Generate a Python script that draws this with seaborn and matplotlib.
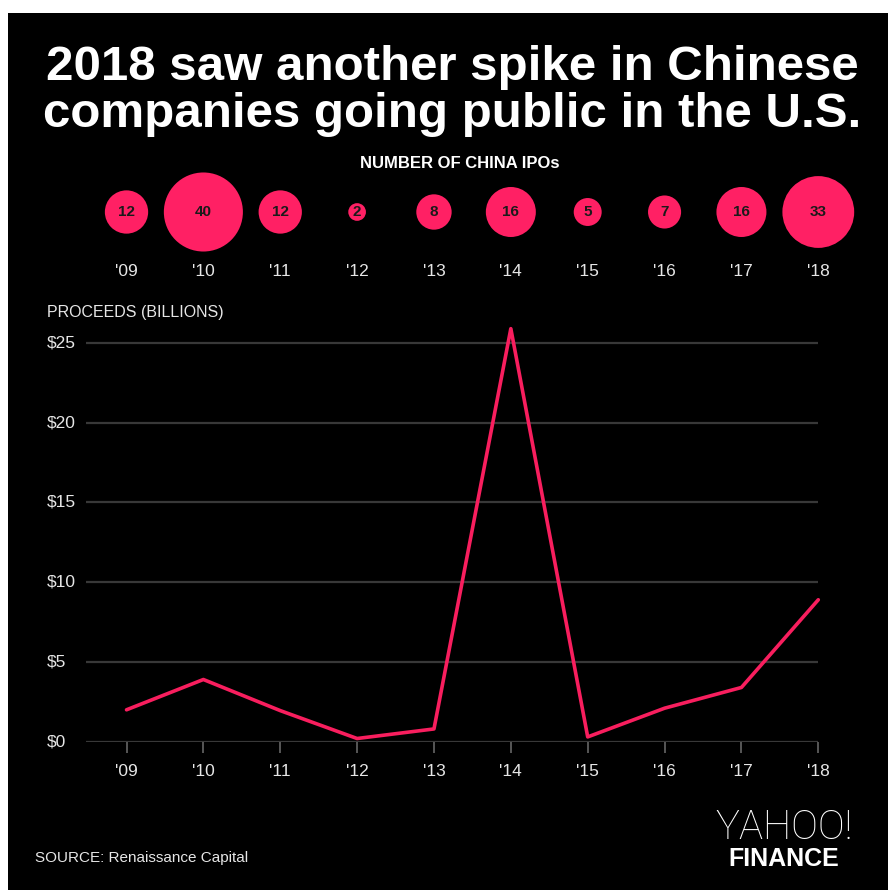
import matplotlib
matplotlib.use("Agg")
import matplotlib.pyplot as plt
import matplotlib.transforms as mtransforms
from matplotlib.patches import Rectangle
import seaborn as sns
import pandas as pd

# ---- data ----
years = ["'09", "'10", "'11", "'12", "'13", "'14", "'15", "'16", "'17", "'18"]
ipo_counts = [12, 40, 12, 2, 8, 16, 5, 7, 16, 33]
proceeds = [2.0, 3.9, 1.95, 0.2, 0.8, 25.9, 0.3, 2.1, 3.4, 8.9]
y_ticks = [0, 5, 10, 15, 20, 25]
y_tick_labels = ["$0", "$5", "$10", "$15", "$20", "$25"]

title = "2018 saw another spike in Chinese\ncompanies going public in the U.S."
bubble_title = "NUMBER OF CHINA IPOs"
axis_title = "PROCEEDS (BILLIONS)"
source = "SOURCE: Renaissance Capital"

PINK = "#F81E5E"
BUBBLE = "#FF2064"
GRID = "#383838"
TXT = "#e6e6e6"

sns.set_theme(style="dark")
plt.rcParams["font.family"] = ["Liberation Sans", "DejaVu Sans"]

W, H = 888, 890
fig = plt.figure(figsize=(W / 100, H / 100), dpi=100, facecolor="white")
fig.patches.append(Rectangle((8 / W, 0), (W - 8) / W, (H - 13) / H,
                             transform=fig.transFigure, facecolor="black",
                             edgecolor="none", zorder=-10))

def fx(px):
    return px / W

def fy(py):
    return 1 - py / H

df = pd.DataFrame({"idx": range(len(years)), "year": years,
                   "ipos": ipo_counts, "proceeds": proceeds})

# ---- main line axes ----
ppu = (741.7 - 343) / 25.0
ytop = 26.6
ax = fig.add_axes([fx(86), fy(741.7), fx(818.3) - fx(86), (ytop * ppu) / H])
ax.set_facecolor("none")
ax.set_xlim(-0.527, 9.0)
ax.set_ylim(0, ytop)
for s in ax.spines.values():
    s.set_visible(False)
ax.grid(False)
for t in y_ticks:
    ax.axhline(t, color=GRID, lw=1.6, zorder=1)
sns.lineplot(data=df, x="idx", y="proceeds", ax=ax, color=PINK, lw=2.6,
             zorder=3, clip_on=False)
ax.set_xlabel("")
ax.set_ylabel("")
ax.set_xticks(df["idx"])
ax.set_xticklabels(years, color=TXT, fontsize=12.5)
ax.tick_params(axis="x", length=8, width=1.2, color="#666666", pad=8,
               direction="out", bottom=True)
ax.set_yticks([])
trans = mtransforms.blended_transform_factory(fig.transFigure, ax.transData)
for v, lab in zip(y_ticks, y_tick_labels):
    fig.text(fx(47), v, lab, transform=trans, ha="left", va="center",
             color=TXT, fontsize=12.5)
fig.text(fx(47), fy(313), axis_title, ha="left", va="center",
         color=TXT, fontsize=11.5)

# ---- bubble axes ----
axb = fig.add_axes([fx(86), fy(252), fx(818.3) - fx(86), 80 / H])
axb.set_facecolor("none")
axb.set_xlim(-0.527, 9.0)
axb.set_ylim(-1, 1)
axb.axis("off")
df["yb"] = 0.0
sns.scatterplot(data=df, x="idx", y="yb", size="ipos", sizes=(2 * 81, 40 * 81),
                size_norm=(2, 40), color=BUBBLE, edgecolor="none",
                legend=False, ax=axb, clip_on=False)
for i, n in enumerate(ipo_counts):
    axb.text(i, 0.0, str(n), ha="center", va="center", color="#1a1a1a",
             fontsize=11, fontweight="bold")
transb = mtransforms.blended_transform_factory(axb.transData, fig.transFigure)
for i, lab in enumerate(years):
    axb.text(i, fy(271), lab, transform=transb, ha="center", va="center",
             color=TXT, fontsize=12.5)
fig.text(fx(460), fy(164), bubble_title, ha="center", va="center",
         color="white", fontsize=12, fontweight="bold")

# ---- title ----
fig.text(fx(452), fy(91), title, ha="center", va="center", color="white",
         fontsize=35.5, fontweight="bold", linespacing=1.08)

# ---- footer ----
fig.text(fx(784), fy(828), "YAHOO!", ha="center", va="center", color="white",
         fontsize=29, family=["Roboto", "DejaVu Sans"], fontweight="light")
fig.text(fx(784), fy(859), "FINANCE", ha="center", va="center", color="white",
         fontsize=18, fontweight="bold")
fig.text(fx(35), fy(858), source, ha="left", va="center", color=TXT,
         fontsize=11)

fig.savefig("out.png", dpi=100, facecolor="white")
